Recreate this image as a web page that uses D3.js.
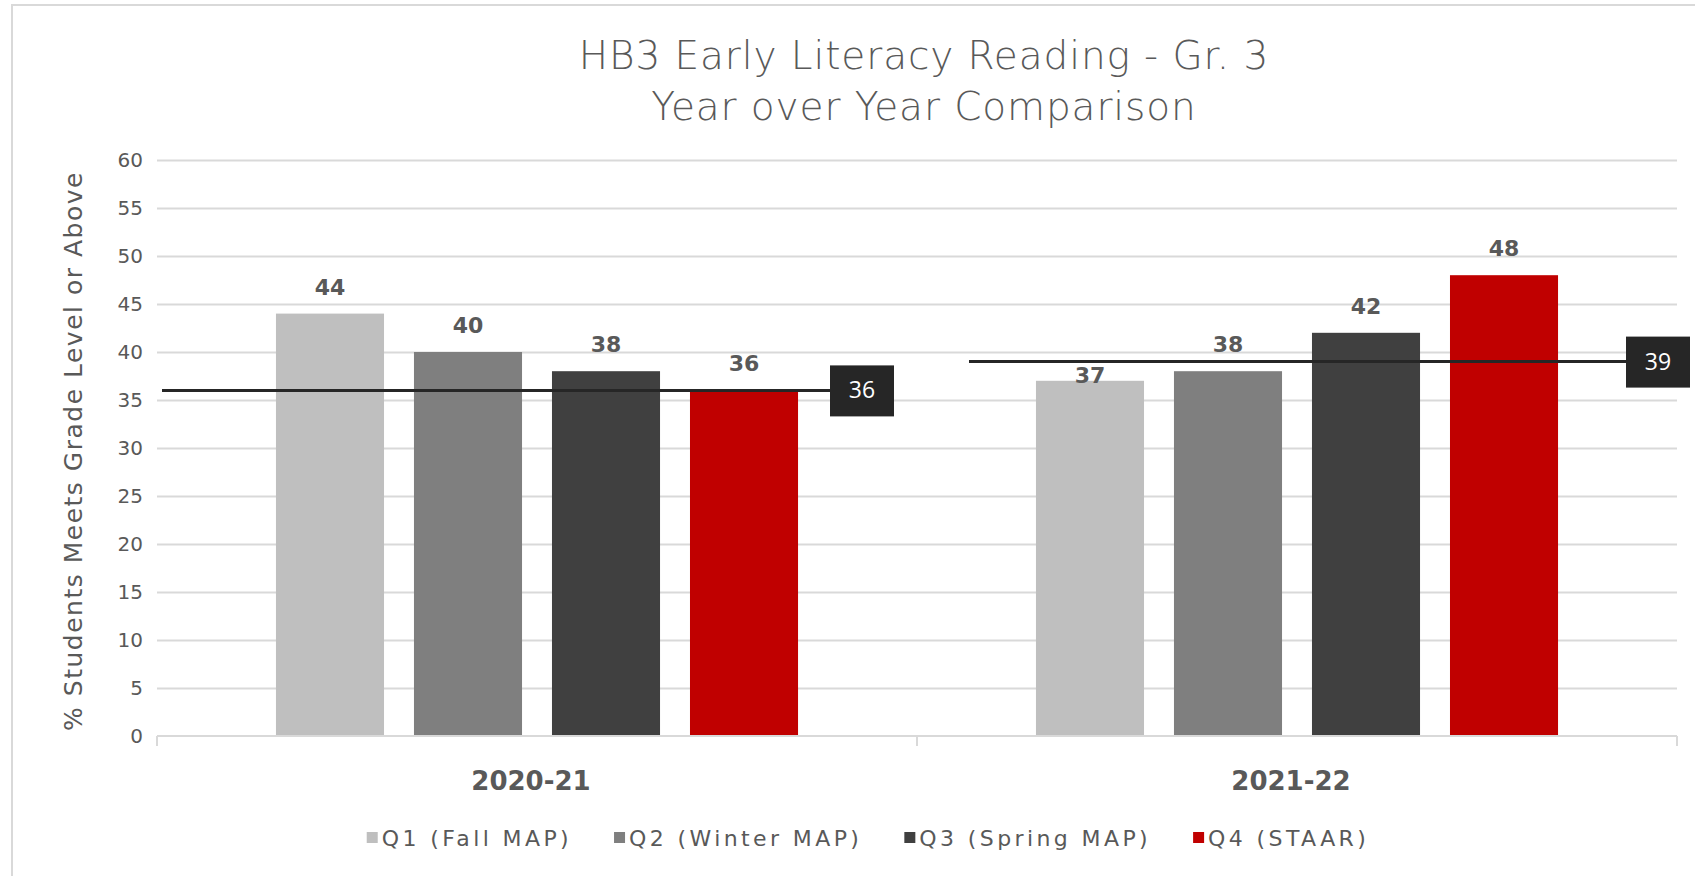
<!DOCTYPE html>
<html>
<head>
<meta charset="utf-8">
<script src="https://cdn.jsdelivr.net/npm/d3@7/dist/d3.min.js"></script>
<style>
  html, body { margin: 0; padding: 0; background: #fff; }
  svg { display: block; }
</style>
</head>
<body>
<svg id="chart" width="1695" height="876"></svg>
<script>
// ---- data ----
const categories = ["2020-21", "2021-22"];
const seriesNames = ["Q1 (Fall MAP)", "Q2 (Winter MAP)", "Q3 (Spring MAP)", "Q4 (STAAR)"];
const q1Values = [44, 37];
const q2Values = [40, 38];
const q3Values = [38, 42];
const q4Values = [36, 48];
const averageValues = [36, 39];
const yTickValues = [0, 5, 10, 15, 20, 25, 30, 35, 40, 45, 50, 55, 60];
const seriesColors = ["#bfbfbf", "#7f7f7f", "#404040", "#c00000"];
const titleLines = ["HB3 Early Literacy Reading - Gr. 3", "Year over Year Comparison"];
const yAxisTitle = "% Students Meets Grade Level or Above";

const seriesValues = [q1Values, q2Values, q3Values, q4Values];

// ---- layout ----
const W = 1695, H = 876;
const plot = { left: 157, right: 1677, top: 160, bottom: 736 };
const FONT = "'DejaVu Sans', sans-serif";
const TXT = "#595959";

const svg = d3.select("#chart");

// outer chart border
svg.append("rect")
  .attr("x", 12).attr("y", 5)
  .attr("width", W + 20).attr("height", H + 20)
  .attr("fill", "#fff").attr("stroke", "#d9d9d9").attr("stroke-width", 2);

// scales
const x0 = d3.scaleBand().domain(categories).range([plot.left, plot.right]).paddingInner(0).paddingOuter(0);
const x1 = d3.scaleBand().domain(seriesNames).range([0, x0.bandwidth()]).paddingInner(0.217).paddingOuter(0.862);
const y = d3.scaleLinear().domain([0, 60]).range([plot.bottom, plot.top]);

// title
svg.append("g").selectAll("text").data(titleLines).join("text")
  .attr("x", 924).attr("y", (d, i) => 69 + i * 51)
  .attr("text-anchor", "middle")
  .attr("font-family", FONT).attr("font-size", 39).attr("font-weight", 300)
  .attr("letter-spacing", 0.9)
  .attr("fill", TXT)
  .text(d => d);

// gridlines
const yAxis = d3.axisLeft(y).tickValues(yTickValues).tickSize(-(plot.right - plot.left)).tickPadding(14);
const gy = svg.append("g").attr("transform", `translate(${plot.left},0)`).call(yAxis);
gy.select(".domain").remove();
gy.selectAll(".tick line").attr("stroke", "#d9d9d9").attr("stroke-width", 2)
  .filter(d => d === 0).remove();
gy.selectAll(".tick text").attr("font-family", FONT).attr("font-size", 20).attr("fill", TXT);

// y axis title
svg.append("text")
  .attr("transform", `translate(82,451) rotate(-90)`)
  .attr("text-anchor", "middle")
  .attr("font-family", FONT).attr("font-size", 25).attr("fill", TXT)
  .attr("letter-spacing", 1.5)
  .text(yAxisTitle);

// bars
const barData = [];
categories.forEach((c, ci) => {
  seriesNames.forEach((s, si) => {
    barData.push({ cat: c, ci, series: s, si, value: seriesValues[si][ci] });
  });
});

svg.append("g").selectAll("rect").data(barData).join("rect")
  .attr("x", d => x0(d.cat) + x1(d.series))
  .attr("y", d => y(d.value))
  .attr("width", x1.bandwidth())
  .attr("height", d => y(0) - y(d.value))
  .attr("fill", d => seriesColors[d.si]);

// x axis baseline + ticks
const xAxisG = svg.append("g");
xAxisG.append("line")
  .attr("x1", plot.left).attr("x2", plot.right)
  .attr("y1", y(0)).attr("y2", y(0))
  .attr("stroke", "#d9d9d9").attr("stroke-width", 2);
const tickXs = [plot.left, ...categories.map(c => x0(c) + x0.bandwidth())];
xAxisG.selectAll("line.tk").data(tickXs).join("line").attr("class", "tk")
  .attr("x1", d => d).attr("x2", d => d)
  .attr("y1", y(0)).attr("y2", y(0) + 10)
  .attr("stroke", "#d9d9d9").attr("stroke-width", 2);
xAxisG.selectAll("text").data(categories).join("text")
  .attr("x", d => x0(d) + x0.bandwidth() / 2 - 6)
  .attr("y", 790)
  .attr("text-anchor", "middle")
  .attr("font-family", FONT).attr("font-size", 26).attr("font-weight", "bold")
  .attr("fill", TXT)
  .text(d => d);

// average lines
const lineOffsets = [[5, 673], [52, 709]];
const avgG = svg.append("g");
categories.forEach((c, ci) => {
  const yy = y(averageValues[ci]);
  const xs = x0(c) + lineOffsets[ci][0];
  const xe = x0(c) + lineOffsets[ci][1];
  avgG.append("line")
    .attr("x1", xs).attr("x2", xe).attr("y1", yy).attr("y2", yy)
    .attr("stroke", "#262626").attr("stroke-width", 3);
  avgG.append("rect")
    .attr("x", xe).attr("y", yy - 25)
    .attr("width", 64).attr("height", 51)
    .attr("fill", "#262626");
  avgG.append("text")
    .attr("x", xe + 32).attr("y", yy + 8)
    .attr("text-anchor", "middle")
    .attr("font-family", "'Open Sans', sans-serif").attr("font-size", 23)
    .attr("fill", "#ffffff")
    .text(averageValues[ci]);
});

// bar value labels
const capH = 17;
svg.append("g").selectAll("text").data(barData).join("text")
  .attr("x", d => x0(d.cat) + x1(d.series) + x1.bandwidth() / 2)
  .attr("y", d => {
    const top = y(d.value);
    let base = top - 19;
    const ly = y(averageValues[d.ci]);
    if (ly >= base - capH - 3 && ly <= base + 3) base = top + 2;
    return base;
  })
  .attr("text-anchor", "middle")
  .attr("font-family", FONT).attr("font-size", 22).attr("font-weight", "bold")
  .attr("fill", TXT)
  .text(d => d.value);

// legend
const legend = svg.append("g");
const items = [];
seriesNames.forEach((s, i) => {
  const g = legend.append("g");
  g.append("rect").attr("x", 0).attr("y", -14).attr("width", 11).attr("height", 11).attr("fill", seriesColors[i]);
  const t = g.append("text").attr("x", 15).attr("y", 0)
    .attr("font-family", FONT).attr("font-size", 22).attr("fill", TXT)
    .attr("letter-spacing", 3.4).text(s);
  const w = 15 + t.node().getComputedTextLength();
  items.push({ g, w });
});
const gap = 42;
const total = d3.sum(items, d => d.w) + gap * (items.length - 1);
let startX = 868 - total / 2;
items.forEach(it => {
  it.g.attr("transform", `translate(${startX},846)`);
  startX += it.w + gap;
});
</script>
</body>
</html>
